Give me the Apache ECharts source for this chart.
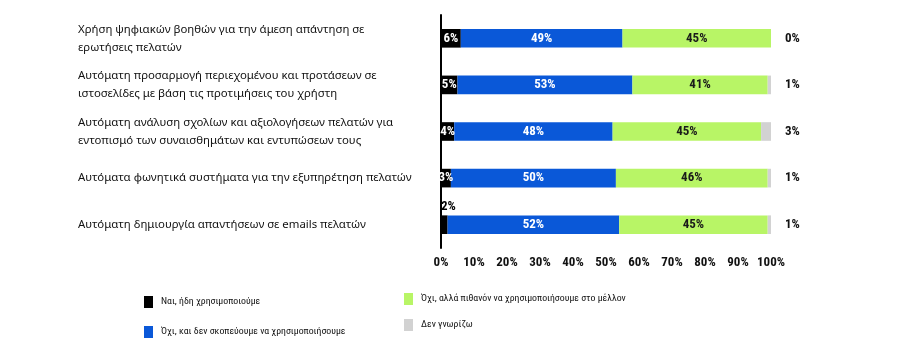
<!DOCTYPE html>
<html><head><meta charset="utf-8">
<script src="https://cdn.jsdelivr.net/npm/echarts@6/dist/echarts.min.js"></script>
<style>html,body{margin:0;padding:0;background:#fff}#c{width:901px;height:357px}</style>
</head><body><div id="c"></div>
<script>
const categories = [
  "Χρήση ψηφιακών βοηθών για την άμεση απάντηση σε\nερωτήσεις πελατών",
  "Αυτόματη προσαρμογή περιεχομένου και προτάσεων σε\nιστοσελίδες με βάση τις προτιμήσεις του χρήστη",
  "Αυτόματη ανάλυση σχολίων και αξιολογήσεων πελατών για\nεντοπισμό των συναισθημάτων και εντυπώσεων τους",
  "Αυτόματα φωνητικά συστήματα για την εξυπηρέτηση πελατών",
  "Αυτόματη δημιουργία απαντήσεων σε emails πελατών"
];
const seriesNames = [
  "Ναι, ήδη χρησιμοποιούμε",
  "Όχι, και δεν σκοπεύουμε να χρησιμοποιήσουμε",
  "Όχι, αλλά πιθανόν να χρησιμοποιήσουμε στο μέλλον",
  "Δεν γνωρίζω"
];
const yesNow = [6, 5, 4, 3, 2];
const noNever = [49, 53, 48, 50, 52];
const maybeFuture = [45, 41, 45, 46, 45];
const dontKnow = [0, 1, 3, 1, 1];

const colors = ['#000000', '#0a58d8', '#b8f566', '#d2d2d2'];
const numFont = "'Roboto Condensed', Roboto, sans-serif";
const txtFont = "'Noto Sans', sans-serif";
const legFont = "'Roboto Condensed', sans-serif";

function lbl(color) {
  return { show: true, position: 'inside', color: color, fontFamily: numFont, fontWeight: 'bold', fontSize: 13, formatter: p => p.value + '%' };
}
const cat = categories.slice().reverse();
const rev = a => a.slice().reverse();

const yesData = rev(yesNow).map(v => v < 3 ? { value: v, label: { position: [0, -15], color: '#000' } } : v);

const chart = echarts.init(document.getElementById('c'));
chart.setOption({
  animation: false,
  color: colors,
  grid: { left: 441, right: 130, top: 15, bottom: 109 },
  xAxis: {
    type: 'value', min: 0, max: 100, interval: 10,
    splitLine: { show: false }, axisLine: { show: false }, axisTick: { show: false },
    axisLabel: { formatter: v => v + '%', color: '#111', fontFamily: numFont, fontWeight: 'bold', fontSize: 13, margin: 8 }
  },
  yAxis: [{
    type: 'category', data: cat,
    axisLine: { show: true, lineStyle: { color: '#000', width: 2 } }, axisTick: { show: false },
    axisLabel: { align: 'left', margin: 363, color: '#111', fontFamily: txtFont, fontSize: 11.4, lineHeight: 18 }
  }, {
    type: 'category', data: rev(dontKnow).map(v => v + '%'), position: 'right',
    axisLine: { show: false }, axisTick: { show: false },
    axisLabel: { align: 'left', margin: 14, color: '#111', fontFamily: numFont, fontWeight: 'bold', fontSize: 13 }
  }],
  legend: [
    { data: [seriesNames[0]], left: 139, top: 291 },
    { data: [seriesNames[1]], left: 139, top: 321 },
    { data: [seriesNames[2]], left: 399, top: 288 },
    { data: [seriesNames[3]], left: 399, top: 314 }
  ].map(l => Object.assign(l, { orient: 'horizontal', icon: 'rect', itemWidth: 9, itemHeight: 12, itemGap: 10,
    textStyle: { color: '#111', fontFamily: legFont, fontSize: 9.8, padding: [0, 0, 0, 3] } })),
  series: [
    { name: seriesNames[0], type: 'bar', stack: 's', barWidth: '40%', data: yesData, label: lbl('#fff') },
    { name: seriesNames[1], type: 'bar', stack: 's', data: rev(noNever), label: lbl('#fff') },
    { name: seriesNames[2], type: 'bar', stack: 's', data: rev(maybeFuture), label: lbl('#1a1a1a') },
    { name: seriesNames[3], type: 'bar', stack: 's', data: rev(dontKnow), label: { show: false } }
  ]
});
</script></body></html>
